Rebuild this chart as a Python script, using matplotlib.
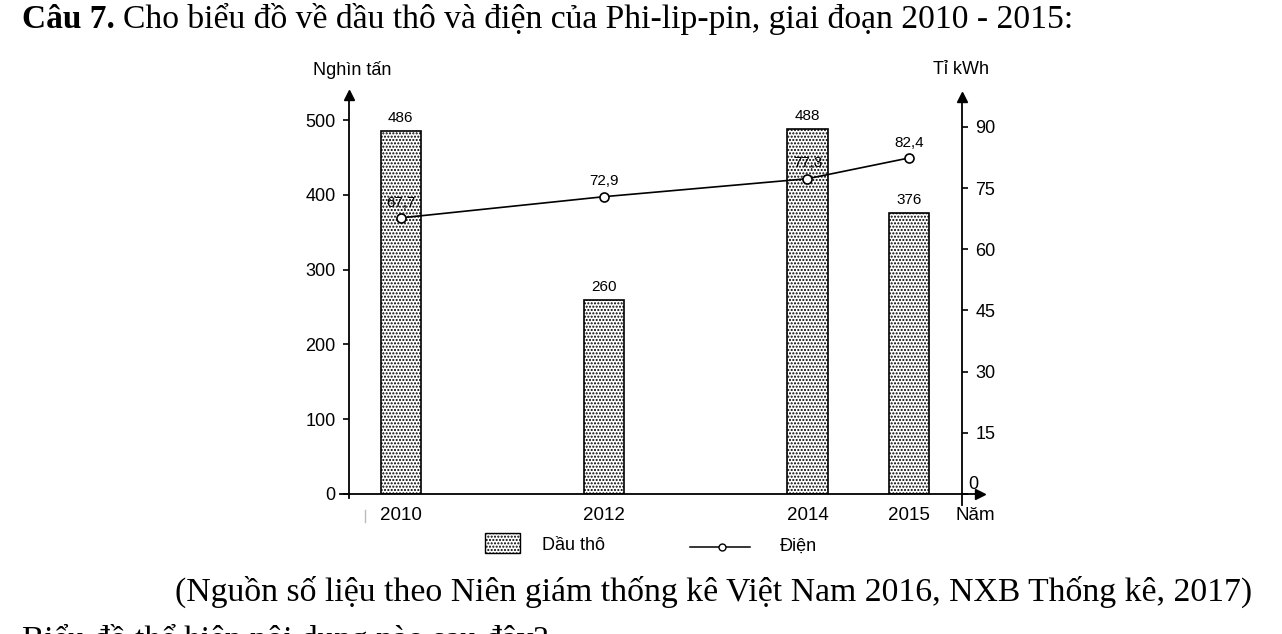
import matplotlib
matplotlib.use("Agg")
import matplotlib.pyplot as plt
from matplotlib.patches import Rectangle
from matplotlib.lines import Line2D
import matplotlib.transforms as mtransforms

# du lieu doc tu bieu do
years = [2010, 2012, 2014, 2015]
dau_tho = [486, 260, 488, 376]
dien = [67.7, 72.9, 77.3, 82.4]
dien_labels = ["67,7", "72,9", "77,3", "82,4"]
left_ticks = [0, 100, 200, 300, 400, 500]
right_ticks = [0, 15, 30, 45, 60, 75, 90]

plt.rcParams['font.family'] = ['Liberation Sans', 'DejaVu Sans']
plt.rcParams['hatch.linewidth'] = 1.0
SERIF = ['Liberation Serif', 'DejaVu Serif']
FS = 13

W, H = 1282, 634
fig = plt.figure(figsize=(W / 100, H / 100), dpi=100)


def fx(px):
    return px / W


def fy(py):
    return 1 - py / H


ax = fig.add_axes([fx(349), fy(494), (962 - 349) / W, (494 - 89) / H])
ax2 = ax.twinx()

ax.set_xlim(2009.49, 2015.52)
ax.set_ylim(0, 541.5)
ax2.set_ylim(0, 99.3)

ax.bar(years, dau_tho, width=0.4, color='white', edgecolor='black',
       hatch='.....', linewidth=1.2, zorder=2)
for x, v in zip(years, dau_tho):
    ax.annotate(str(v), (x, v), xytext=(0, 4), textcoords='offset points',
                ha='center', va='bottom', fontsize=11)

ax2.plot(years, dien, color='black', lw=1.2, marker='o', ms=6.5,
         mfc='white', mec='black', mew=1.2, zorder=3)
for x, v, s in zip(years, dien, dien_labels):
    ax2.annotate(s, (x, v), xytext=(0, 6), textcoords='offset points',
                 ha='center', va='bottom', fontsize=11)

for a in (ax, ax2):
    for sp in a.spines.values():
        sp.set_visible(False)

# truc
ax.plot([0, 0], [-0.01, 0.985], transform=ax.transAxes, color='black',
        lw=1.3, clip_on=False)
ax.plot([0], [0.985], transform=ax.transAxes, marker='^', ms=7,
        color='black', clip_on=False)
ax.plot([1, 1], [-0.027, 0.98], transform=ax.transAxes, color='black',
        lw=1.3, clip_on=False)
ax.plot([1], [0.98], transform=ax.transAxes, marker='^', ms=7,
        color='black', clip_on=False)
ax.plot([-0.015, 1.03], [0, 0], transform=ax.transAxes, color='black',
        lw=1.3, clip_on=False)
ax.plot([1.03], [0], transform=ax.transAxes, marker='>', ms=7,
        color='black', clip_on=False)

ax.set_yticks(left_ticks)
ax.tick_params(axis='y', direction='out', length=4.5, width=1.2,
               labelsize=FS, pad=5)
ax2.set_yticks(right_ticks)
ax2.tick_params(axis='y', direction='out', length=4.5, width=1.2,
                labelsize=FS, pad=5)
# nhan 0 ben phai nam tren truc hoanh
lab0 = ax2.yaxis.get_major_ticks()[0].label2
lab0.set_va('bottom')
lab0.set_transform(lab0.get_transform() +
                   mtransforms.ScaledTranslation(-5 / 72, 1 / 72,
                                                 fig.dpi_scale_trans))
ax.set_xticks(years)
ax.set_xticklabels([str(y) for y in years])
ax.tick_params(axis='x', length=0, labelsize=13.5, pad=9)

fig.text(fx(975), fy(516), "Năm", ha='center', va='center', fontsize=13.5)
fig.text(fx(352), fy(70), "Nghìn tấn", ha='center', va='center', fontsize=FS)
fig.text(fx(961), fy(70), "Tỉ kWh", ha='center', va='center', fontsize=FS)
fig.add_artist(Line2D([fx(365), fx(365)], [fy(510), fy(522)],
                      color='#bbbbbb', lw=1))

# chu giai
fig.add_artist(Rectangle((fx(485), fy(553)), 35 / W, 20 / H,
                         transform=fig.transFigure, facecolor='white',
                         edgecolor='black', hatch='.....', lw=1))
fig.text(fx(542), fy(546), "Dầu thô", ha='left', va='center', fontsize=FS)
fig.add_artist(Line2D([fx(690), fx(750)], [fy(547), fy(547)], color='black',
                      lw=1.1))
fig.add_artist(Line2D([fx(722)], [fy(547)], color='black', marker='o', ms=5,
                      mfc='white', mec='black', mew=1))
fig.text(fx(780), fy(546), "Điện", ha='left', va='center', fontsize=FS)

# tieu de va nguon
t1 = fig.text(fx(22), fy(19), "Câu 7.", family=SERIF, fontweight='bold',
              fontsize=24, va='center', ha='left')
fig.canvas.draw()
bb = t1.get_window_extent(fig.canvas.get_renderer())
fig.text(bb.x1 / W + 8 / W, fy(19),
         "Cho biểu đồ về dầu thô và điện của Phi-lip-pin, giai đoạn 2010 - 2015:",
         family=SERIF, fontsize=24.2, va='center', ha='left')
fig.text(fx(175), fy(592),
         "(Nguồn số liệu theo Niên giám thống kê Việt Nam 2016, NXB Thống kê, 2017)",
         family=SERIF, fontsize=24.3, va='center', ha='left')
fig.text(fx(22), fy(624), "Biểu đồ thể hiện nội dung nào sau đây?",
         family=SERIF, fontsize=24, va='top', ha='left')

fig.savefig("out.png", dpi=100)
